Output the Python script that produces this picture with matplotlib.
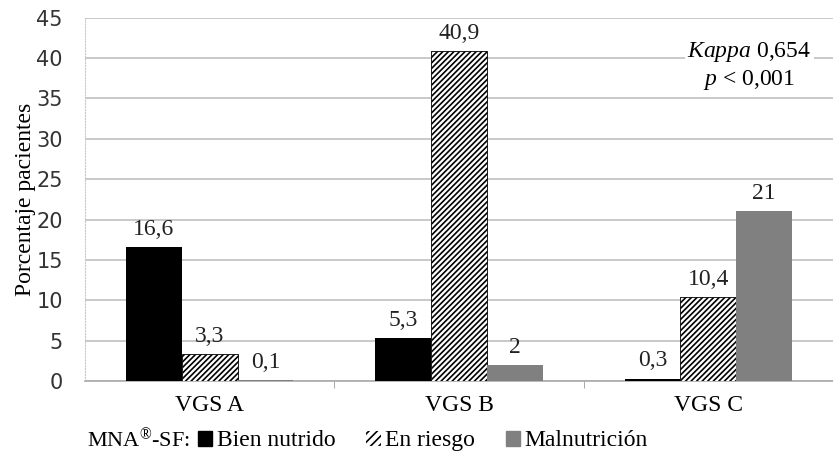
import matplotlib.pyplot as plt
import matplotlib.patches as mpatches
import numpy as np

plt.rcParams['hatch.linewidth'] = 1.2
plt.rcParams['mathtext.fontset'] = 'custom'
plt.rcParams['mathtext.rm'] = 'Liberation Serif'
plt.rcParams['mathtext.it'] = 'Liberation Serif:italic'

grupos = ['VGS A', 'VGS B', 'VGS C']
bien_nutrido = [16.6, 5.3, 0.3]
en_riesgo = [3.3, 40.9, 10.4]
malnutricion = [0.1, 2, 21]
etiquetas = [['16,6', '5,3', '0,3'], ['3,3', '40,9', '10,4'], ['0,1', '2', '21']]

serif = 'Liberation Serif'
sans = 'DejaVu Sans'
fs = 17

fig = plt.figure(figsize=(8.33, 4.68), dpi=100)
ax = fig.add_axes([0.102, 0.186, 0.898, 0.776])

x = np.arange(len(grupos))
w = 0.224
series = [bien_nutrido, en_riesgo, malnutricion]
estilos = [dict(color='black'),
           dict(facecolor='white', edgecolor='black', hatch='//////', linewidth=0.6),
           dict(color='#808080')]
for i, (vals, st) in enumerate(zip(series, estilos)):
    bars = ax.bar(x + (i - 1) * w, vals, w, zorder=3, **st)
    for b, lab in zip(bars, etiquetas[i]):
        ax.text(b.get_x() + b.get_width() / 2, b.get_height() + 0.9, lab,
                ha='center', va='bottom', fontsize=fs, family=serif, color='#222222')

ax.set_xlim(-0.5, 2.5)
ax.set_ylim(0, 45)
ax.set_yticks(range(0, 46, 5))
ax.set_xticks(x)
ax.set_xticklabels(grupos, fontsize=fs, family=serif)
ax.set_xticks([0.5, 1.5], minor=True)
ax.tick_params(axis='x', which='major', length=0, pad=10)
ax.tick_params(axis='x', which='minor', length=5, color='#999999')
ax.tick_params(axis='y', length=0, labelsize=15, pad=16, labelcolor='#333333')
for t in ax.get_yticklabels():
    t.set_family(sans)

ax.yaxis.grid(True, color='#c0c0c0', linewidth=1.2, zorder=0)
ax.set_axisbelow(True)
for s in ['top', 'right']:
    ax.spines[s].set_visible(False)
ax.spines['left'].set_color('#c8c8c8')
ax.spines['left'].set_linestyle(':')
ax.spines['bottom'].set_color('#aaaaaa')
ax.spines['bottom'].set_linewidth(1.2)

ax.set_ylabel('Porcentaje pacientes', fontsize=fs, family=serif, labelpad=0)

ax.text(2.165, 40.8, r'$\mathit{Kappa}$ 0,654', ha='center', va='center', fontsize=fs,
        family=serif, zorder=4, bbox=dict(facecolor='white', edgecolor='none', pad=2))
ax.text(2.165, 37.3, r'$\mathit{p}$ < 0,001', ha='center', va='center', fontsize=fs,
        family=serif, zorder=4)

fig.text(0.104, 0.058, 'MNA$^{®}$-SF:', fontsize=16, family=serif, va='center')
handles = [mpatches.Patch(color='black', label='Bien nutrido'),
           mpatches.Patch(facecolor='white', edgecolor='black', linewidth=0, hatch='////', label='En riesgo'),
           mpatches.Patch(color='#808080', label='Malnutrición')]
fig.legend(handles=handles, loc='center left', bbox_to_anchor=(0.238, 0.058), ncol=3,
           frameon=False, prop={'family': serif, 'size': fs}, handlelength=0.6,
           handleheight=0.6, handletextpad=0.2, columnspacing=1.3,
           borderpad=0, borderaxespad=0)

fig.savefig('out.png', dpi=100)
